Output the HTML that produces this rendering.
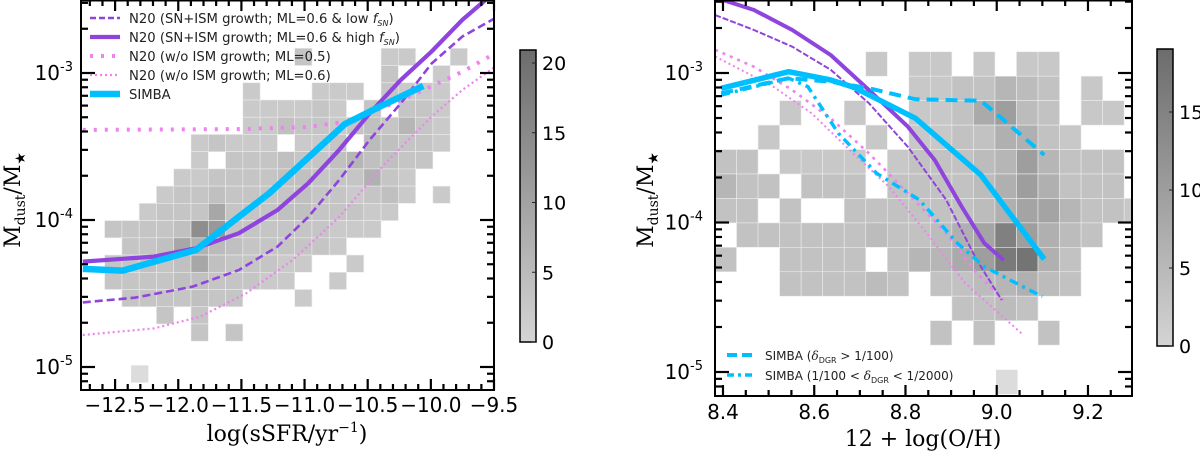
<!DOCTYPE html>
<html><head><meta charset="utf-8">
<style>
html,body{margin:0;padding:0;background:#fff;}
svg{display:block;}
text{font-family:"DejaVu Sans","Liberation Sans",sans-serif;}
.serif{font-family:"DejaVu Serif","Liberation Serif",serif;}
</style></head>
<body>
<svg id="fig" width="1200" height="451" viewBox="0 0 1200 451" xmlns="http://www.w3.org/2000/svg">
<defs>
<clipPath id="clipL"><rect x="81" y="0" width="413" height="390"/></clipPath>
<clipPath id="clipR"><rect x="715" y="0" width="417" height="396"/></clipPath>
<linearGradient id="cbL" x1="0" y1="1" x2="0" y2="0"><stop offset="0" stop-color="#d4d4d4"/><stop offset="1" stop-color="#6c6c6c"/></linearGradient>
<linearGradient id="cbR" x1="0" y1="1" x2="0" y2="0"><stop offset="0" stop-color="#d4d4d4"/><stop offset="1" stop-color="#6c6c6c"/></linearGradient>
</defs>
</svg>
<script>
// ---------------- LEFT PANEL DATA ----------------
const leftHistX0 = -12.583, leftHistDX = 0.1368, leftHistY0 = -2.832, leftHistDY = 0.1172;
const leftHistRows = [
"...........3....22..2.",
"................3..2..",
"........2...222.3222..",
"........222232.3.332..",
"........224332343632..",
".....23222.223.54332..",
".....2.333433464433...",
"....22333344333732....",
"...233433334332342.2..",
"..233393334433322.....",
"33334ec333333222......",
".3349754333332........",
"334349433322..2.......",
"33334433322..2........",
".3333433...2..........",
"...3.3................",
".....3.3.............."
];
const leftExtraX = [-12.305], leftExtraY = [8.97e-6], leftExtraN = [1];
const simbaL_x = [-12.756,-12.44,-11.86,-11.28,-10.68,-10.405,-10.06];
const simbaL_y = [4.65e-5,4.53e-5,6.25e-5,1.52e-4,4.50e-4,5.90e-4,8.17e-4];
const highL_x = [-12.756,-12.192,-11.857,-11.52,-11.214,-10.97,-10.726,-10.484,-10.238,-9.994,-9.75,-9.567];
const highL_y = [5.21e-5,5.64e-5,6.43e-5,8.13e-5,1.17e-4,1.78e-4,3.0e-4,5.32e-4,8.97e-4,1.40e-3,2.30e-3,3.14e-3];
const lowL_x = [-12.756,-12.345,-11.887,-11.52,-11.214,-10.97,-10.726,-10.484,-10.238,-9.994,-9.75,-9.492];
const lowL_y = [2.75e-5,2.96e-5,3.52e-5,4.57e-5,6.59e-5,1.05e-4,1.87e-4,3.51e-4,6.22e-4,1.16e-3,1.77e-3,2.36e-3];
const ml5L_x = [-12.756,-11.5,-10.97,-10.667,-10.36,-10.056,-9.75,-9.492];
const ml5L_y = [4.1e-4,4.15e-4,4.3e-4,4.67e-4,5.9e-4,7.67e-4,1.02e-3,1.36e-3];
const ml6L_x = [-12.756,-12.192,-11.826,-11.46,-11.093,-10.726,-10.36,-9.994,-9.75,-9.492];
const ml6L_y = [1.65e-5,1.83e-5,2.2e-5,3.18e-5,5.35e-5,1.05e-4,2.43e-4,5.05e-4,7.67e-4,1.10e-3];
const leftXTicks = [-12.5,-12.0,-11.5,-11.0,-10.5,-10.0,-9.5];
const leftXTickLabels = ["\u221212.5","\u221212.0","\u221211.5","\u221211.0","\u221210.5","\u221210.0","\u22129.5"];
const leftCbTicks = [0,5,10,15,20];

// ---------------- RIGHT PANEL DATA ----------------
const rightHistX0 = 8.3825, rightHistDX = 0.0472, rightHistY0 = -2.858, rightHistDY = 0.1635;
const rightHistRows = [
".......2.22.2.22....",
".........2233543.2..",
"...2..2..2237943.22.",
"..2....2.22336632...",
"33.2222.23334595333.",
"533.333.33334696333.",
"33.3..33333346885332",
".333333433468e9643..",
"3..3333.35579fg63...",
"...333343.3345643...",
"...........3343.....",
"..........3.3..3...."
];
const rightExtraX = [9.022], rightExtraY = [8.57e-6], rightExtraN = [1];
const simbaR_x = [8.396,8.544,8.636,8.687,8.822,8.965,9.104];
const simbaR_y = [7.9e-4,1.02e-3,8.98e-4,8.02e-4,4.98e-4,2.08e-4,5.68e-5];
const simbaHiR_x = [8.396,8.544,8.636,8.72,8.822,8.965,9.015,9.104];
const simbaHiR_y = [7.31e-4,9.23e-4,8.75e-4,7.9e-4,6.67e-4,6.53e-4,4.85e-4,2.83e-4];
const simbaMidR_x = [8.396,8.544,8.586,8.653,8.737,8.83,8.914,8.973,9.1];
const simbaMidR_y = [7.13e-4,9.23e-4,8.11e-4,3.95e-4,2.13e-4,1.42e-4,7.26e-5,5.06e-5,3.19e-5];
const highR_x = [8.4,8.468,8.552,8.636,8.72,8.805,8.864,8.923,8.973,9.015];
const highR_y = [3.08e-3,2.64e-3,1.94e-3,1.32e-3,7.69e-4,4.38e-4,2.62e-4,1.28e-4,7.26e-5,5.61e-5];
const lowR_x = [8.383,8.468,8.552,8.636,8.72,8.805,8.889,8.956,9.011];
const lowR_y = [2.44e-3,1.94e-3,1.5e-3,1.05e-3,6.27e-4,3.21e-4,1.42e-4,5.61e-5,3.03e-5];
const ml5R_x = [8.383,8.468,8.552,8.636,8.72,8.805,8.889,8.956,9.015];
const ml5R_y = [1.43e-3,1.10e-3,7.69e-4,4.98e-4,2.9e-4,1.57e-4,8.47e-5,4.57e-5,3.03e-5];
const ml6R_x = [8.383,8.51,8.594,8.678,8.763,8.847,8.931,9.058];
const ml6R_y = [1.29e-3,8.11e-4,5.38e-4,3.05e-4,1.74e-4,8.47e-5,3.92e-5,1.77e-5];
const rightXTicks = [8.4,8.6,8.8,9.0,9.2];
const rightXTickLabels = ["8.4","8.6","8.8","9.0","9.2"];
const rightCbTicks = [0,5,10,15];

// ---------------- RENDER ----------------
const NS = "http://www.w3.org/2000/svg";
const svg = document.getElementById('fig');
function mk(tag, attrs, parent){const e=document.createElementNS(NS,tag);for(const k in attrs)e.setAttribute(k,attrs[k]);(parent||svg).appendChild(e);return e;}

const L = {x0:81,x1:494,y0:0,y1:390, xmin:-12.77, xmax:-9.5, pxPerDec:147, y3:73};
const R = {x0:715,x1:1132,y0:0,y1:396, xmin:8.3825, xmax:9.2965, pxPerDec:149.5, y3:73};
function sxL(v){return L.x0+(v-L.xmin)/(L.xmax-L.xmin)*(L.x1-L.x0);}
function syL(v){return L.y3-(Math.log10(v)+3)*L.pxPerDec;}
function slL(lg){return L.y3-(lg+3)*L.pxPerDec;}
function sxR(v){return R.x0+(v-R.xmin)/(R.xmax-R.xmin)*(R.x1-R.x0);}
function syR(v){return R.y3-(Math.log10(v)+3)*R.pxPerDec;}
function slR(lg){return R.y3-(lg+3)*R.pxPerDec;}
function grayL(n){const g=Math.round(212-5.0*n);return `rgb(${g},${g},${g})`;}
function grayR(n){const g=Math.round(212-6.0*n);return `rgb(${g},${g},${g})`;}

function drawHist(rows,x0,dx,y0,dy,sx,sl,gray,clip,name,exX,exY,exN){
  const g=mk('g',{'clip-path':`url(#${clip})`});
  
  
  rows.forEach((row,r)=>{
    for(let c=0;c<row.length;c++){
      const ch=row[c]; if(ch==='.') continue;
      const n=parseInt(ch,36);
      const xa=sx(x0+c*dx), xb=sx(x0+(c+1)*dx);
      const ya=sl(y0-r*dy), yb=sl(y0-(r+1)*dy);
      const rc=mk('rect',{x:xa,y:ya,width:xb-xa,height:yb-ya,fill:gray(n),stroke:'#ececec','stroke-width':0.6},g);
      
      
    }
  });
  exX.forEach((xv,i)=>{
    const xa=sx(xv-dx/2), xb=sx(xv+dx/2);
    const lg=Math.log10(exY[i]);
    const ya=sl(lg+dy/2), yb=sl(lg-dy/2);
    const rc=mk('rect',{x:xa,y:ya,width:xb-xa,height:yb-ya,fill:'#dcdcdc'},g);
    
    
  });
}
function drawLine(xs,ys,sx,sy,style,clip,name){
  const d=xs.map((x,i)=>(i?'L':'M')+sx(x).toFixed(1)+','+sy(ys[i]).toFixed(1)).join(' ');
  const p=mk('path',Object.assign({d:d,fill:'none','clip-path':`url(#${clip})`,'stroke-linejoin':'round'},style));
  
  
}
function frameTicks(P,sx,sl,xMinor,xMajor,xmin,xmax,name){
  const g=mk('g',{stroke:'#000'});
  
  
  mk('rect',{x:P.x0,y:P.y0+0.5,width:P.x1-P.x0,height:P.y1-P.y0-0.5,fill:'none','stroke-width':2},g);
  const nmin=Math.ceil(xmin/xMinor-1e-6), nmax=Math.floor(xmax/xMinor+1e-6);
  for(let k=nmin;k<=nmax;k++){
    const v=k*xMinor; const major=Math.abs(v/xMajor-Math.round(v/xMajor))<1e-6;
    const x=sx(v), len=major?11:6;
    mk('line',{x1:x,y1:P.y1,x2:x,y2:P.y1-len,'stroke-width':2.2},g);
    mk('line',{x1:x,y1:P.y0,x2:x,y2:P.y0+len,'stroke-width':2.2},g);
  }
  for(let dec=-6;dec<=-2;dec++){
    for(let m=1;m<=9;m++){
      const y=sl(dec+Math.log10(m));
      if(y<P.y0+1||y>P.y1-1) continue;
      const len=m===1?14:7;
      mk('line',{x1:P.x0,y1:y,x2:P.x0+len,y2:y,'stroke-width':2.2},g);
      mk('line',{x1:P.x1,y1:y,x2:P.x1-len,y2:y,'stroke-width':2.2},g);
    }
  }
}
function yLabels(P,sl,xRight,name){
  [-3,-4,-5].forEach(dec=>{
    const t=mk('text',{x:xRight,y:sl(dec)+7,'text-anchor':'end','font-size':20,fill:'#000'});
    
    
    t.textContent='10';
    const s=mk('tspan',{'font-size':13,dy:-9},t); s.textContent=String(dec);
  });
}
function colorbar(x,y0,y1,grad,ticks,perUnit,zeroY,name,lblName){
  const r=mk('rect',{x:x,y:y0,width:16,height:y1-y0,fill:`url(#${grad})`,stroke:'#000','stroke-width':1.5});
  
  
  ticks.forEach(v=>{
    const y=zeroY-v*perUnit;
    mk('line',{x1:x+16,y1:y,x2:x+12,y2:y,stroke:'#222','stroke-width':1});
    const t=mk('text',{x:x+22,y:y+7,'font-size':19,fill:'#000'});
    
    
    t.textContent=String(v);
  });
}

// Left
drawHist(leftHistRows,leftHistX0,leftHistDX,leftHistY0,leftHistDY,sxL,slL,grayL,'clipL','left-heatmap',leftExtraX,leftExtraY,leftExtraN);
drawLine(ml6L_x,ml6L_y,sxL,syL,{stroke:'#ee82ee','stroke-width':2.2,'stroke-dasharray':'2,3'},'clipL','left-n20-ml06');
drawLine(ml5L_x,ml5L_y,sxL,syL,{stroke:'#ee82ee','stroke-width':4,'stroke-dasharray':'3,8'},'clipL','left-n20-ml05');
drawLine(lowL_x,lowL_y,sxL,syL,{stroke:'#8e44dd','stroke-width':2.6,'stroke-dasharray':'8,4'},'clipL','left-n20-low-fsn');
drawLine(highL_x,highL_y,sxL,syL,{stroke:'#8e44dd','stroke-width':4.2},'clipL','left-n20-high-fsn');
drawLine(simbaL_x,simbaL_y,sxL,syL,{stroke:'#00bfff','stroke-width':6.5},'clipL','left-simba');
frameTicks(L,sxL,slL,0.1,0.5,L.xmin,L.xmax,'left-axes-frame');
yLabels(L,slL,73,'left-y-tick-label');
leftXTicks.forEach((v,i)=>{
  const t=mk('text',{x:sxL(v),y:412,'text-anchor':'middle','font-size':20,fill:'#000'});
  
  
  t.textContent=leftXTickLabels[i];
});
colorbar(520,50,342,'cbL',leftCbTicks,13.95,342,'left-colorbar','left-colorbar-label');

// Right
drawHist(rightHistRows,rightHistX0,rightHistDX,rightHistY0,rightHistDY,sxR,slR,grayR,'clipR','right-heatmap',rightExtraX,rightExtraY,rightExtraN);
drawLine(ml6R_x,ml6R_y,sxR,syR,{stroke:'#ee82ee','stroke-width':2,'stroke-dasharray':'2,3'},'clipR','right-n20-ml06');
drawLine(ml5R_x,ml5R_y,sxR,syR,{stroke:'#ee82ee','stroke-width':2.6,'stroke-dasharray':'3,5'},'clipR','right-n20-ml05');
drawLine(lowR_x,lowR_y,sxR,syR,{stroke:'#8e44dd','stroke-width':2,'stroke-dasharray':'6,2'},'clipR','right-n20-low-fsn');
drawLine(highR_x,highR_y,sxR,syR,{stroke:'#8e44dd','stroke-width':4},'clipR','right-n20-high-fsn');
drawLine(simbaMidR_x,simbaMidR_y,sxR,syR,{stroke:'#00bfff','stroke-width':3.5,'stroke-dasharray':'9,5,3,5'},'clipR','right-simba-mid-dgr');
drawLine(simbaHiR_x,simbaHiR_y,sxR,syR,{stroke:'#00bfff','stroke-width':4,'stroke-dasharray':'12,7'},'clipR','right-simba-high-dgr');
drawLine(simbaR_x,simbaR_y,sxR,syR,{stroke:'#00bfff','stroke-width':5.5},'clipR','right-simba');
frameTicks(R,sxR,slR,0.05,0.2,R.xmin,R.xmax,'right-axes-frame');
yLabels(R,slR,703,'right-y-tick-label');
rightXTicks.forEach((v,i)=>{
  const t=mk('text',{x:sxR(v),y:419,'text-anchor':'middle','font-size':20,fill:'#000'});
  
  
  t.textContent=rightXTickLabels[i];
});
colorbar(1157,49,346,'cbR',rightCbTicks,15.6,346,'right-colorbar','right-colorbar-label');
</script>
<div style="position:absolute;left:0;top:0;width:1200px;height:451px;pointer-events:none;">
<svg width="1200" height="451" xmlns="http://www.w3.org/2000/svg" style="position:absolute;left:0;top:0">
  <g font-size="13.2" fill="#222" style="font-family:'DejaVu Sans','Liberation Sans',sans-serif">
    <line x1="90" y1="18" x2="120" y2="18" stroke="#8e44dd" stroke-width="2.6" stroke-dasharray="6,3"/>
    <text x="129" y="23">N20 (SN+ISM growth; ML=0.6 &amp; low <tspan font-style="italic">f</tspan><tspan font-size="8" font-style="italic" dy="3">SN</tspan><tspan dy="-3">)</tspan></text>
    <line x1="90" y1="37" x2="120" y2="37" stroke="#8e44dd" stroke-width="4.2"/>
    <text x="129" y="42">N20 (SN+ISM growth; ML=0.6 &amp; high <tspan font-style="italic">f</tspan><tspan font-size="8" font-style="italic" dy="3">SN</tspan><tspan dy="-3">)</tspan></text>
    <line x1="90" y1="56" x2="120" y2="56" stroke="#ee82ee" stroke-width="4" stroke-dasharray="3,8"/>
    <text x="129" y="61">N20 (w/o ISM growth; ML=0.5)</text>
    <line x1="90" y1="75" x2="120" y2="75" stroke="#ee82ee" stroke-width="2.2" stroke-dasharray="2,3"/>
    <text x="129" y="80">N20 (w/o ISM growth; ML=0.6)</text>
    <line x1="90" y1="94" x2="120" y2="94" stroke="#00bfff" stroke-width="6.5"/>
    <text x="129" y="99">SIMBA</text>
  </g>
  <g font-size="12" fill="#222" style="font-family:'DejaVu Sans','Liberation Sans',sans-serif">
    <line x1="727" y1="355" x2="752" y2="355" stroke="#00bfff" stroke-width="4" stroke-dasharray="10,5"/>
    <text x="765" y="360">SIMBA (<tspan font-style="italic" style="font-family:'DejaVu Serif',serif">δ</tspan><tspan font-size="8" dy="3">DGR</tspan><tspan dy="-3"> &gt; 1/100)</tspan></text>
    <line x1="727" y1="375" x2="752" y2="375" stroke="#00bfff" stroke-width="3.5" stroke-dasharray="7,4,3,4"/>
    <text x="765" y="380">SIMBA (1/100 &lt; <tspan font-style="italic" style="font-family:'DejaVu Serif',serif">δ</tspan><tspan font-size="8" dy="3">DGR</tspan><tspan dy="-3"> &lt; 1/2000)</tspan></text>
  </g>
  <text x="287" y="441" text-anchor="middle" font-size="22" style="font-family:'DejaVu Serif','Liberation Serif',serif">log(sSFR/yr<tspan font-size="14" dy="-9">−1</tspan><tspan dy="9">)</tspan></text>
  <text x="923" y="446" text-anchor="middle" font-size="22" style="font-family:'DejaVu Serif','Liberation Serif',serif">12 + log(O/H)</text>
  <text transform="translate(20,200) rotate(-90)" text-anchor="middle" font-size="22" style="font-family:'DejaVu Serif','Liberation Serif',serif">M<tspan font-size="14" dy="5">dust</tspan><tspan dy="-5">/M</tspan><tspan font-size="14" dy="5">★</tspan></text>
  <text transform="translate(653,200) rotate(-90)" text-anchor="middle" font-size="22" style="font-family:'DejaVu Serif','Liberation Serif',serif">M<tspan font-size="14" dy="5">dust</tspan><tspan dy="-5">/M</tspan><tspan font-size="14" dy="5">★</tspan></text>
</svg>
</div>
</body></html>
